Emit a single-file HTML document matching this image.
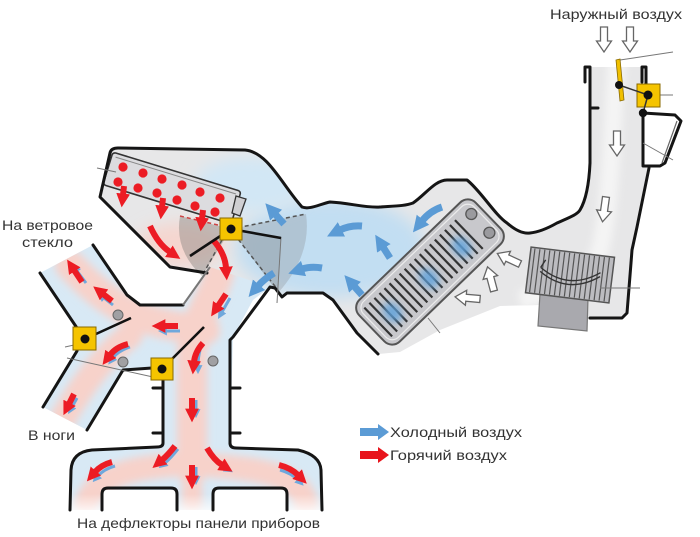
<!DOCTYPE html>
<html><head><meta charset="utf-8"><style>
html,body{margin:0;padding:0;background:#fff;}
svg{display:block;}
text{font-family:"Liberation Sans","DejaVu Sans",sans-serif;fill:#333;}
</style></head><body>
<svg width="700" height="537" viewBox="0 0 700 537" xmlns="http://www.w3.org/2000/svg">
<defs>
<filter id="bl" x="-50%" y="-50%" width="200%" height="200%"><feGaussianBlur stdDeviation="8"/></filter>
<filter id="bl2" x="-50%" y="-50%" width="200%" height="200%"><feGaussianBlur stdDeviation="4"/></filter>
<clipPath id="cH"><path d="M110,153 Q111,148 118,148 L245,150 C268,152 282,185 302,207 C310,210 320,204 330,202 C350,203 365,208 380,207 C395,206 405,206 413,203 C425,195 435,180 447,180 L467,180 C480,190 495,215 507,223 C515,230 523,234 530,233 C540,232 550,227 557,223 C568,218 577,215 580,210 C586,200 589,185 590,163 L590,67 L643,67 L643,165 L649,167 L637,227 L632,250 L631,263 L627,313 L622,318 L590,320 L540,305 L500,306 L440,330 L400,352 L378,354 L357,333 L333,300 L323,293 L287,293 L282,297 L275,288 L270,287 L207,273 L170,267 L100,197 Z"/></clipPath>
<clipPath id="cL"><path d="M40,273 L93,245 L127,295 L140,305 L183,305 L210,267 L270,287 L253,300 L233,337 L230,443 L236,448 L298,450 Q320,455 321,470 L322,510 L287,510 L287,490 L213,490 L213,510 L177,510 L177,490 L102,490 L102,510 L70,510 L71,470 Q72,452 92,450 L157,447 L163,443 L163,370 L152,368 L123,370 L87,430 L43,407 L77,351 L85,339 L77,328 Z"/></clipPath>
<marker id="mr" viewBox="0 0 10 10" refX="1" refY="5" markerWidth="2.3" markerHeight="2.3" orient="auto"><path d="M0,0L10,5L0,10z" fill="#ec1c24"/></marker>
<marker id="mb" viewBox="0 0 10 10" refX="1" refY="5" markerWidth="2.3" markerHeight="2.3" orient="auto"><path d="M0,0L10,5L0,10z" fill="#5b9bd5"/></marker>
<marker id="mb2" viewBox="0 0 10 10" refX="1" refY="5" markerWidth="3" markerHeight="3" orient="auto"><path d="M0,0L10,5L0,10z" fill="#6fa8dc"/></marker>
<polygon id="ha" points="-3.5,0 3.5,0 3.5,14 7.5,14 0,25 -7.5,14 -3.5,14" fill="#fff" stroke="#666" stroke-width="1.3"/>
<linearGradient id="fade" x1="0" y1="0" x2="0" y2="1"><stop offset="0" stop-color="#fff" stop-opacity="0"/><stop offset="1" stop-color="#fff" stop-opacity="0.85"/></linearGradient>
</defs>

<!-- housing fill -->
<path d="M110,153 Q111,148 118,148 L245,150 C268,152 282,185 302,207 C310,210 320,204 330,202 C350,203 365,208 380,207 C395,206 405,206 413,203 C425,195 435,180 447,180 L467,180 C480,190 495,215 507,223 C515,230 523,234 530,233 C540,232 550,227 557,223 C568,218 577,215 580,210 C586,200 589,185 590,163 L590,67 L643,67 L643,165 L649,167 L637,227 L632,250 L631,263 L627,313 L622,318 L590,320 L540,305 L500,306 L440,330 L400,352 L378,354 L357,333 L333,300 L323,293 L287,293 L282,297 L275,288 L270,287 L207,273 L170,267 L100,197 Z" fill="#e7e7e8"/>
<g clip-path="url(#cH)">
  <path d="M618,40 C612,120 612,200 600,250 C590,280 560,290 520,300" stroke="#f4f4f4" stroke-width="18" fill="none" filter="url(#bl2)"/>
  <ellipse cx="330" cy="248" rx="95" ry="50" fill="#c2def2" filter="url(#bl)"/>
  <ellipse cx="250" cy="185" rx="55" ry="28" fill="#d2e7f5" filter="url(#bl)"/>
  <ellipse cx="180" cy="245" rx="45" ry="22" fill="#f5d6cf" filter="url(#bl)"/>
</g>

<!-- left ducts fill -->
<path d="M40,273 L93,245 L127,295 L140,305 L183,305 L210,267 L270,287 L253,300 L233,337 L230,443 L236,448 L298,450 Q320,455 321,470 L322,510 L287,510 L287,490 L213,490 L213,510 L177,510 L177,490 L102,490 L102,510 L70,510 L71,470 Q72,452 92,450 L157,447 L163,443 L163,370 L152,368 L123,370 L87,430 L43,407 L77,351 L85,339 L77,328 Z" fill="#d8e9f5"/>
<g clip-path="url(#cL)" fill="none" stroke="#f7d2ca" stroke-linecap="round" filter="url(#bl2)">
  <path d="M222,262 C214,300 195,315 192,350 L192,470" stroke-width="30"/>
  <path d="M205,330 C160,325 120,320 70,265" stroke-width="30"/>
  <path d="M130,335 C105,355 85,380 62,420" stroke-width="26"/>
  <path d="M192,462 C170,468 100,462 86,505" stroke-width="24"/>
  <path d="M192,462 C215,470 300,462 306,505" stroke-width="24"/>
  <path d="M192,470 L192,505" stroke-width="20"/>
</g>
<rect x="68" y="494" width="256" height="18" fill="url(#fade)"/>

<!-- sectors near damper -->
<path d="M231,229 L306,214 Q312,255 278,293 Z" fill="#8e969c" opacity="0.35"/>
<path d="M231,229 L281,238 L278,293 Z" fill="#7a8288" opacity="0.2"/>
<path d="M231,229 L180,216 Q174,250 202,276 Z" fill="#8a8580" opacity="0.45"/>
<g stroke="#555" stroke-width="1.5" stroke-dasharray="4,3" fill="none">
  <path d="M231,229 L306,214"/><path d="M234,234 L278,290"/><path d="M222,240 L202,276"/>
</g>
<path d="M180,216 L222,226" stroke="#c44" stroke-width="1.5" stroke-dasharray="4,3"/>

<!-- heater core -->
<g transform="translate(172,188) rotate(17)">
  <rect x="-67" y="-17" width="134" height="34" rx="3" fill="#dcdcdf" stroke="#333" stroke-width="1.6"/>
  <line x1="-63" y1="-13" x2="63" y2="-13" stroke="#888" stroke-width="1"/>
</g>
<polygon points="236,196 246,199 240,216 232,213" fill="#cfcfd2" stroke="#333" stroke-width="1.3"/>
<g fill="#ec1c24">
  <circle cx="123" cy="167" r="4.6"/><circle cx="143" cy="173" r="4.6"/><circle cx="162" cy="179" r="4.6"/><circle cx="182" cy="185" r="4.6"/><circle cx="200" cy="192" r="4.6"/><circle cx="220" cy="198" r="4.6"/>
  <circle cx="118" cy="182" r="4.6"/><circle cx="138" cy="188" r="4.6"/><circle cx="157" cy="193" r="4.6"/><circle cx="177" cy="200" r="4.6"/><circle cx="195" cy="206" r="4.6"/><circle cx="215" cy="212" r="4.6"/>
</g>

<!-- evaporator -->
<g transform="translate(430,272) rotate(-44)">
  <rect x="-81" y="-29" width="162" height="58" rx="11" fill="#c8c8cc" stroke="#555" stroke-width="2"/>
  <rect x="-77" y="-25" width="154" height="50" rx="9" fill="none" stroke="#ececec" stroke-width="1.2"/>
  <g stroke="#333" stroke-width="2.2">
    <line x1="-72" y1="-20" x2="-72" y2="20"/><line x1="-65" y1="-20" x2="-65" y2="20"/><line x1="-58" y1="-20" x2="-58" y2="20"/><line x1="-51" y1="-20" x2="-51" y2="20"/><line x1="-44" y1="-20" x2="-44" y2="20"/><line x1="-37" y1="-20" x2="-37" y2="20"/><line x1="-30" y1="-20" x2="-30" y2="20"/><line x1="-23" y1="-20" x2="-23" y2="20"/><line x1="-16" y1="-20" x2="-16" y2="20"/><line x1="-9" y1="-20" x2="-9" y2="20"/><line x1="-2" y1="-20" x2="-2" y2="20"/><line x1="5" y1="-20" x2="5" y2="20"/><line x1="12" y1="-20" x2="12" y2="20"/><line x1="19" y1="-20" x2="19" y2="20"/><line x1="26" y1="-20" x2="26" y2="20"/><line x1="33" y1="-20" x2="33" y2="20"/><line x1="40" y1="-20" x2="40" y2="20"/><line x1="47" y1="-20" x2="47" y2="20"/><line x1="54" y1="-20" x2="54" y2="20"/>
  </g>
  <circle cx="70" cy="-13" r="5.5" fill="#9a9a9e" stroke="#555" stroke-width="1.3"/>
  <circle cx="70" cy="13" r="5.5" fill="#9a9a9e" stroke="#555" stroke-width="1.3"/>
  <g fill="#5fa2dc" opacity="0.85" filter="url(#bl2)">
    <ellipse cx="-55" cy="3" rx="8" ry="11"/><ellipse cx="-5" cy="4" rx="8" ry="11"/><ellipse cx="40" cy="4" rx="8" ry="11"/>
  </g>
</g>

<!-- filter & blower box -->
<polygon points="540,294 588,298 587,331 538,326" fill="#a9a9ae" stroke="#777" stroke-width="1.2"/>
<g transform="translate(570,275) rotate(7)">
  <rect x="-42" y="-23" width="84" height="46" fill="#bcbcc0" stroke="#555" stroke-width="1.5"/>
  <g stroke="#555" stroke-width="1.2">
    <line x1="-38" y1="-22" x2="-38" y2="22"/><line x1="-33" y1="-22" x2="-33" y2="22"/><line x1="-28" y1="-22" x2="-28" y2="22"/><line x1="-23" y1="-22" x2="-23" y2="22"/><line x1="-18" y1="-22" x2="-18" y2="22"/><line x1="-13" y1="-22" x2="-13" y2="22"/><line x1="-8" y1="-22" x2="-8" y2="22"/><line x1="-3" y1="-22" x2="-3" y2="22"/><line x1="2" y1="-22" x2="2" y2="22"/><line x1="7" y1="-22" x2="7" y2="22"/><line x1="12" y1="-22" x2="12" y2="22"/><line x1="17" y1="-22" x2="17" y2="22"/><line x1="22" y1="-22" x2="22" y2="22"/><line x1="27" y1="-22" x2="27" y2="22"/><line x1="32" y1="-22" x2="32" y2="22"/><line x1="37" y1="-22" x2="37" y2="22"/>
  </g>
  <path d="M-30,-4 Q0,16 30,-6 M-30,0 Q0,20 30,-2 M-30,-4 L-26,-12" stroke="#333" stroke-width="1.4" fill="none"/>
</g>

<!-- outlines -->
<g fill="none" stroke="#151515" stroke-width="3" stroke-linejoin="round" stroke-linecap="round">
  <path d="M207,273 L170,267 L100,197 L110,153 Q111,148 118,148 L245,150 C268,152 282,185 302,207 C310,210 320,204 330,202 C350,203 365,208 380,207 C395,206 405,206 413,203 C425,195 435,180 447,180 L467,180 C480,190 495,215 507,223 C515,230 523,234 530,233 C540,232 550,227 557,223 C568,218 577,215 580,210 C586,200 589,185 590,163 L590,67 L585,67 L585,82"/>
  <path d="M590,108 L598,108"/>
  <path d="M642,82 L642,67 L646,67 L646,86"/>
  <path d="M643,113 L643,165"/>
  <path d="M643,113 L675,115 L681,121 L665,163 L660,166 L643,166"/>
  <path d="M649,168 L637,227 L632,250 L631,263 L627,313 L622,318 L590,318"/>
  <path d="M230,443 L230,340 L233,337 L270,287 L275,288 L282,297 L287,293 L323,293 L333,300 L357,333 L378,354"/>
  <path d="M163,370 L163,443 Q163,447 157,447 L92,450 Q72,452 71,470 L70,510"/>
  <path d="M230,443 Q230,448 236,448 L298,450 Q320,455 321,470 L322,510"/>
  <path d="M102,510 L102,494 Q102,488 108,488 L171,488 Q177,488 177,494 L177,510"/>
  <path d="M213,510 L213,494 Q213,488 219,488 L281,488 Q287,488 287,494 L287,510"/>
  <path d="M40,273 L77,328"/>
  <path d="M77,351 L43,407"/>
  <path d="M93,245 L127,295 L140,305 L183,305"/>
  <path d="M87,430 L123,370 L152,368"/>
  <path d="M153,388 L163,388 M153,433 L163,433 M230,388 L240,388 M230,433 L240,433"/>
</g>
<path d="M677,121 L662,163" stroke="#666" stroke-width="1.2"/>
<path d="M183,305 L210,267" stroke="#777" stroke-width="2"/>

<!-- callouts -->
<g stroke="#777" stroke-width="1" fill="none">
  <path d="M97,168 L116,172"/><path d="M620,60 L673,52"/><path d="M658,95 L673,95"/><path d="M643,143 L673,160"/>
  <path d="M600,288 L640,288"/><path d="M428,318 L440,333"/><path d="M65,347 L74,345"/><path d="M67,358 L153,377"/>
  <path d="M281,237 L277,303"/>
</g>

<!-- hollow arrows -->
<use href="#ha" transform="translate(604,27)"/>
<use href="#ha" transform="translate(630,27)"/>
<use href="#ha" transform="translate(617,131)"/>
<use href="#ha" transform="translate(606,197) rotate(8)"/>
<use href="#ha" transform="translate(520,264) rotate(115)"/>
<use href="#ha" transform="translate(494,291) rotate(165)"/>
<use href="#ha" transform="translate(480,299) rotate(95)"/>

<!-- blue arrows (cold) -->
<g fill="none" stroke="#5b9bd5" stroke-width="7" marker-end="url(#mb)">
  <path d="M442,207 Q430,211 422,221"/>
  <path d="M362,226 Q350,225 340,230"/>
  <path d="M390,258 L383,247"/>
  <path d="M322,268 Q311,266 302,269"/>
  <path d="M362,295 L354,286"/>
  <path d="M274,273 Q264,279 258,286"/>
  <path d="M284,224 L275,214"/>
</g>
<g fill="none" stroke="#6fa8dc" stroke-width="3" marker-end="url(#mb2)">
  <path d="M230,298 L222,312"/>
  <path d="M180,331 L166,331"/>
  <path d="M200,350 Q198,358 198,366"/>
  <path d="M196,400 L196,410"/>
  <path d="M196,467 L196,477"/>
  <path d="M178,449 Q171,458 165,463"/>
  <path d="M210,452 Q218,463 226,468"/>
  <path d="M115,466 Q104,469 98,476"/>
  <path d="M280,470 Q291,473 298,480"/>
  <path d="M86,283 L77,271"/>
  <path d="M113,305 L104,298"/>
  <path d="M130,347 Q118,351 113,358"/>
  <path d="M77,398 L72,407"/>
</g>

<!-- red arrows (hot) -->
<g fill="none" stroke="#ec1c24" stroke-width="6" marker-end="url(#mr)">
  <path d="M124,186 L123,195"/>
  <path d="M163,198 L162,207"/>
  <path d="M203,210 L202,219"/>
  <path d="M150,226 Q158,244 170,252"/>
  <path d="M213,240 Q225,253 226,268"/>
  <path d="M226,294 L218,306"/>
  <path d="M178,326 L164,326"/>
  <path d="M203,343 Q195,352 194,362"/>
  <path d="M192,398 L192,410"/>
  <path d="M192,465 L192,477"/>
  <path d="M175,446 Q168,455 162,460"/>
  <path d="M207,448 Q214,460 222,465"/>
  <path d="M112,462 Q101,465 95,472"/>
  <path d="M279,465 Q291,468 298,475"/>
  <path d="M82,282 L74,270"/>
  <path d="M112,301 L103,294"/>
  <path d="M128,344 Q116,347 110,355"/>
  <path d="M74,394 L69,404"/>
</g>

<!-- dampers -->
<line x1="231" y1="229" x2="190" y2="256" stroke="#111" stroke-width="2.6"/>
<line x1="231" y1="229" x2="281" y2="238" stroke="#111" stroke-width="2.6"/>
<line x1="85" y1="339" x2="131" y2="318" stroke="#111" stroke-width="2.6"/>
<line x1="162" y1="369" x2="204" y2="327" stroke="#111" stroke-width="2.6"/>
<g fill="#f5c400" stroke="#8a6a00" stroke-width="1">
  <rect x="220" y="218" width="22" height="22"/>
  <rect x="73" y="327" width="23" height="23"/>
  <rect x="151" y="358" width="22" height="22"/>
  <rect x="637" y="84" width="23" height="23"/>
</g>
<polygon points="616,60 620,59 624,100 620,101" fill="#f0c000" stroke="#8a6a00" stroke-width="0.8"/>
<line x1="619" y1="85" x2="648" y2="95" stroke="#333" stroke-width="1.5"/>
<line x1="648" y1="95" x2="643" y2="113" stroke="#333" stroke-width="1.5"/>
<g fill="#111">
  <circle cx="231" cy="229" r="4.5"/><circle cx="85" cy="339" r="4.5"/><circle cx="162" cy="369" r="4.5"/>
  <circle cx="648" cy="95" r="4.5"/><circle cx="619" cy="85" r="4"/><circle cx="643" cy="113" r="4.2"/>
</g>
<g fill="#a0a0a3" stroke="#666" stroke-width="1">
  <circle cx="118" cy="315" r="5"/><circle cx="123" cy="362" r="5"/><circle cx="213" cy="361" r="5"/>
</g>

<!-- legend -->
<polygon points="360,428 378,428 378,424 389,432 378,440 378,436 360,436" fill="#5b9bd5"/>
<polygon points="360,451 378,451 378,447 389,455 378,463 378,459 360,459" fill="#e8141c"/>

<!-- text -->
<text x="550" y="19" font-size="14" textLength="132" lengthAdjust="spacingAndGlyphs">Наружный воздух</text>
<text x="2" y="230" font-size="14" textLength="91" lengthAdjust="spacingAndGlyphs">На ветровое</text>
<text x="22" y="247" font-size="14" textLength="51" lengthAdjust="spacingAndGlyphs">стекло</text>
<text x="28" y="440" font-size="14" textLength="47" lengthAdjust="spacingAndGlyphs">В ноги</text>
<text x="77" y="528" font-size="14" textLength="243" lengthAdjust="spacingAndGlyphs">На дефлекторы панели приборов</text>
<text x="390" y="437" font-size="14" textLength="132" lengthAdjust="spacingAndGlyphs">Холодный воздух</text>
<text x="390" y="460" font-size="14" textLength="117" lengthAdjust="spacingAndGlyphs">Горячий воздух</text>
</svg>
</body></html>
